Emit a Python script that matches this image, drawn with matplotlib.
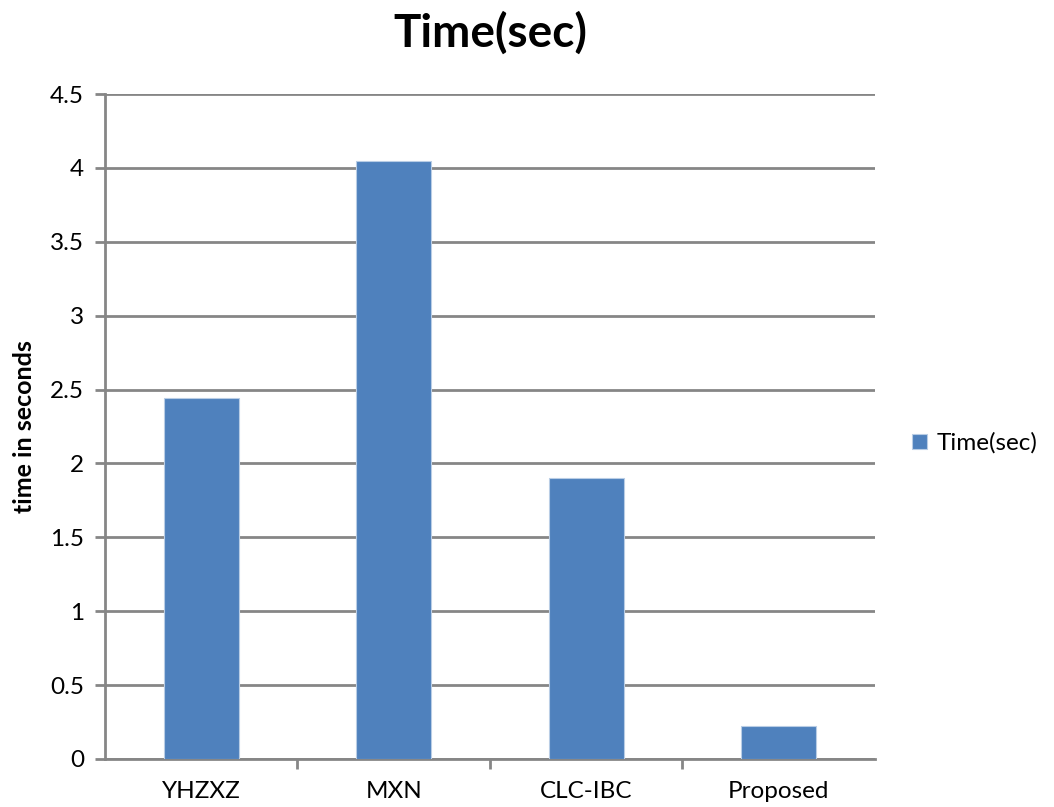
import matplotlib.pyplot as plt

methods = ["YHZXZ", "MXN", "CLC-IBC", "Proposed"]
times = [2.44, 4.05, 1.90, 0.22]
y_ticks = [0, 0.5, 1, 1.5, 2, 2.5, 3, 3.5, 4, 4.5]

plt.rcParams["font.family"] = ["Lato", "DejaVu Sans"]
grey = "#868686"

fig = plt.figure(figsize=(10.54, 8.07), dpi=100)
ax = fig.add_axes([0.0996, 0.0595, 0.7305, 0.824])

ax.bar(range(len(methods)), times, width=0.39, color="#4F81BD",
       edgecolor="#B9CDE5", linewidth=0.8, label="Time(sec)", zorder=3)

ax.set_xlim(-0.5, len(methods) - 0.5)
ax.set_ylim(0, 4.5)
ax.set_yticks(y_ticks)
ax.set_yticklabels([f"{v:g}" for v in y_ticks])
ax.yaxis.grid(True, color=grey, linewidth=2)
ax.set_axisbelow(True)

# category labels centred, tick marks on the boundaries between them
ax.set_xticks(range(len(methods)))
ax.set_xticklabels(methods)
ax.tick_params(axis="x", length=0, pad=16, labelsize=17.5)
ax.set_xticks([0.5, 1.5, 2.5], minor=True)
ax.tick_params(axis="x", which="minor", length=7, width=2, color=grey, direction="out")
ax.tick_params(axis="y", length=7, width=2, color=grey, pad=8, labelsize=17.5)

for side in ["top", "right"]:
    ax.spines[side].set_visible(False)
for side in ["left", "bottom"]:
    ax.spines[side].set_color(grey)
    ax.spines[side].set_linewidth(2)

ax.set_ylabel("time in seconds", fontsize=18, fontweight="bold", labelpad=10)
ax.set_title("Time(sec)", fontsize=33, fontweight="bold", pad=34)

ax.legend(loc="center left", bbox_to_anchor=(1.02, 0.475), frameon=False,
          fontsize=17.5, handlelength=0.6, handleheight=0.6, handletextpad=0.4)

plt.savefig("out.png")
